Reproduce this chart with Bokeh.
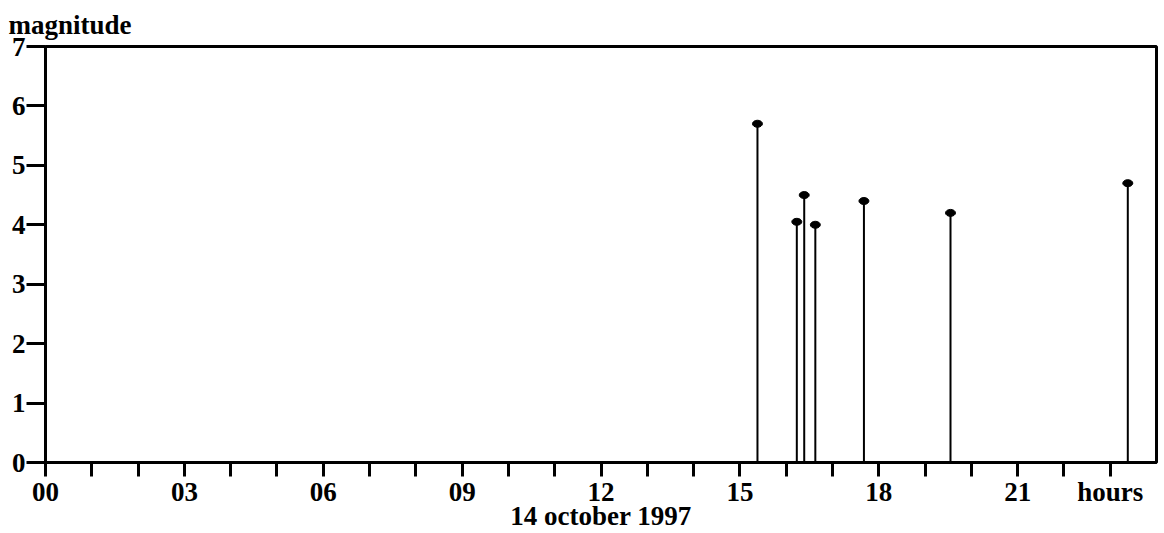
from bokeh.plotting import figure
from bokeh.models import Range1d, FixedTicker
from bokeh.embed import file_html
from bokeh.resources import INLINE

# data
hours = [15.38, 16.23, 16.39, 16.63, 17.68, 19.55, 23.38]
magnitude = [5.7, 4.05, 4.5, 4.0, 4.4, 4.2, 4.7]
x_ticks = list(range(0, 24))
x_tick_labels = {h: (f"{h:02d}" if h % 3 == 0 else "") for h in x_ticks}
x_tick_labels[23] = "hours"
y_ticks = [0, 1, 2, 3, 4, 5, 6, 7]
y_title = "magnitude"
date_label = "14 october 1997"

FONT = "Liberation Serif"
FS = "27px"

p = figure(frame_width=1111, frame_height=416, output_backend="svg", toolbar_location=None,
           x_range=Range1d(0, 24), y_range=Range1d(0, 7),
           min_border_left=45, min_border_top=46, min_border_right=4, min_border_bottom=60)
p.grid.visible = False
p.outline_line_color = "black"
p.outline_line_width = 3
p.background_fill_color = "white"
p.border_fill_color = "white"

p.title.text = y_title
p.title.align = "left"
p.title.offset = -37
p.title.text_font = FONT
p.title.text_font_size = FS
p.title.text_font_style = "bold"
p.title.text_color = "black"
p.title.standoff = 14

xa = p.xaxis[0]
xa.ticker = FixedTicker(ticks=x_ticks)
xa.major_label_overrides = x_tick_labels
xa.minor_tick_line_color = None
xa.major_tick_in = 0
xa.major_tick_out = 14
xa.major_tick_line_width = 3
xa.axis_line_width = 3
xa.major_label_standoff = 0
xa.major_label_text_font = FONT
xa.major_label_text_font_size = FS
xa.major_label_text_font_style = "bold"
xa.major_label_text_color = "black"
xa.axis_label = date_label
xa.axis_label_text_font = FONT
xa.axis_label_text_font_size = FS
xa.axis_label_text_font_style = "bold"
xa.axis_label_text_color = "black"
xa.axis_label_standoff = -9

ya = p.yaxis[0]
ya.ticker = FixedTicker(ticks=y_ticks)
ya.minor_tick_line_color = None
ya.major_tick_in = 0
ya.major_tick_out = 19
ya.major_tick_line_width = 3
ya.axis_line_width = 3
ya.major_label_standoff = 1
ya.major_label_text_font = FONT
ya.major_label_text_font_size = FS
ya.major_label_text_font_style = "bold"
ya.major_label_text_color = "black"

p.segment(x0=hours, y0=[0] * len(hours), x1=hours, y1=magnitude, line_color="black", line_width=2)
p.ellipse(x=hours, y=magnitude, width=10, height=7, width_units="screen", height_units="screen",
          fill_color="black", line_color="black")

open("out.html", "w").write(file_html(p, INLINE))
